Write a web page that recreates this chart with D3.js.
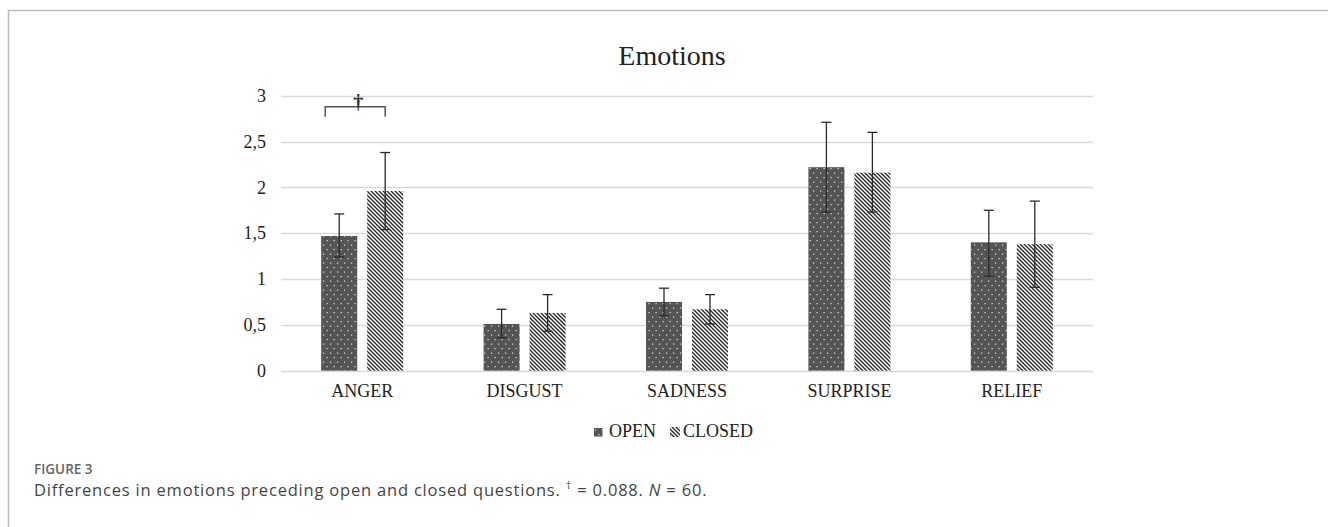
<!DOCTYPE html>
<html>
<head>
<meta charset="utf-8">
<script src="https://cdn.jsdelivr.net/npm/d3@7"></script>
<style>
    body { margin: 0; background: #fff; }
    svg { display: block; }
</style>
</head>
<body>
<svg id="chart" width="1328" height="527"></svg>
<script>
(function () {
    // data
    var categories = [ "ANGER", "DISGUST", "SADNESS", "SURPRISE", "RELIEF" ];
    var series = [ "OPEN", "CLOSED" ];
    var openMeans = [ 1.47, 0.51, 0.75, 2.22, 1.40 ];
    var openLow = [ 1.24, 0.36, 0.60, 1.73, 1.03 ];
    var openHigh = [ 1.71, 0.67, 0.90, 2.71, 1.75 ];
    var closedMeans = [ 1.96, 0.63, 0.67, 2.16, 1.38 ];
    var closedLow = [ 1.54, 0.43, 0.51, 1.73, 0.91 ];
    var closedHigh = [ 2.38, 0.83, 0.83, 2.60, 1.85 ];
    var yTicks = [ 0, 0.5, 1, 1.5, 2, 2.5, 3 ];

    var serif = "'Liberation Serif', 'Times New Roman', serif";
    var sans = "'Open Sans', 'Noto Sans', sans-serif";

    var svg = d3.select( "#chart" );

    // figure frame (top and left edge only, like the cropped panel)
    svg.append( "path" )
        .attr( "d", "M8.5,527 L8.5,10.5 L1328,10.5" )
        .attr( "fill", "none" )
        .attr( "stroke", "#bdbdbd" )
        .attr( "stroke-width", 1.5 );

    // fill patterns
    var defs = svg.append( "defs" );
    var dots = defs.append( "pattern" )
        .attr( "id", "dots" )
        .attr( "patternUnits", "userSpaceOnUse" )
        .attr( "width", 7 )
        .attr( "height", 9 );
    dots.append( "rect" ).attr( "width", 7 ).attr( "height", 9 ).attr( "fill", "#555" );
    dots.append( "rect" ).attr( "x", 1 ).attr( "y", 1.5 ).attr( "width", 1.2 ).attr( "height", 1.2 ).attr( "fill", "#ddd" );
    dots.append( "rect" ).attr( "x", 4.5 ).attr( "y", 6 ).attr( "width", 1.2 ).attr( "height", 1.2 ).attr( "fill", "#ddd" );

    var hatch = defs.append( "pattern" )
        .attr( "id", "hatch" )
        .attr( "patternUnits", "userSpaceOnUse" )
        .attr( "width", 4 )
        .attr( "height", 4 );
    hatch.append( "rect" ).attr( "width", 4 ).attr( "height", 4 ).attr( "fill", "#fff" );
    hatch.append( "path" )
        .attr( "d", "M-1,-1 L5,5 M3,-1 L5,1 M-1,3 L1,5" )
        .attr( "stroke", "#222" )
        .attr( "stroke-width", 1.3 );

    var fills = { OPEN: "url(#dots)", CLOSED: "url(#hatch)" };

    // scales
    var x = d3.scaleBand().domain( categories ).range( [ 281, 1093 ] );
    var xs = d3.scaleBand().domain( series ).range( [ -41, 41 ] ).paddingInner( 0.217 );
    var y = d3.scaleLinear().domain( [ 0, 3 ] ).range( [ 370.7, 95.7 ] );

    // gridlines
    svg.append( "g" )
        .selectAll( "line" )
        .data( yTicks )
        .join( "line" )
        .attr( "x1", 281 )
        .attr( "x2", 1093 )
        .attr( "y1", function ( d ) { return Math.round( y( d ) ) + 0.5 } )
        .attr( "y2", function ( d ) { return Math.round( y( d ) ) + 0.5 } )
        .attr( "stroke", "#d9d9d9" )
        .attr( "stroke-width", 1.3 );

    // y axis labels
    var yAxis = svg.append( "g" )
        .attr( "transform", "translate(281,0)" )
        .call( d3.axisLeft( y )
            .tickValues( yTicks )
            .tickSize( 0 )
            .tickPadding( 15 )
            .tickFormat( function ( d ) { return String( d ).replace( ".", "," ) } ) );
    yAxis.select( ".domain" ).remove();
    yAxis.selectAll( "text" )
        .attr( "font-family", serif )
        .attr( "font-size", 18 )
        .attr( "fill", "#222" );

    // x axis labels
    var xAxis = svg.append( "g" )
        .attr( "transform", "translate(0," + y( 0 ) + ")" )
        .call( d3.axisBottom( x ).tickSize( 0 ).tickPadding( 14 ) );
    xAxis.select( ".domain" ).remove();
    xAxis.selectAll( "text" )
        .attr( "font-family", serif )
        .attr( "font-size", 18 )
        .attr( "fill", "#222" );

    // rows for the bars
    var rows = [];
    categories.forEach( function ( c, i ) {
        rows.push({ cat: c, key: "OPEN", v: openMeans[ i ], lo: openLow[ i ], hi: openHigh[ i ] });
        rows.push({ cat: c, key: "CLOSED", v: closedMeans[ i ], lo: closedLow[ i ], hi: closedHigh[ i ] });
    });
    function barX( d ) {
        return x( d.cat ) + x.bandwidth() / 2 + xs( d.key );
    }

    svg.append( "g" )
        .selectAll( "rect" )
        .data( rows )
        .join( "rect" )
        .attr( "x", barX )
        .attr( "y", function ( d ) { return y( d.v ) } )
        .attr( "width", xs.bandwidth() )
        .attr( "height", function ( d ) { return y( 0 ) - y( d.v ) } )
        .attr( "fill", function ( d ) { return fills[ d.key ] } );

    // error bars
    var err = svg.append( "g" )
        .attr( "stroke", "#2a2a2a" )
        .attr( "stroke-width", 1.3 )
        .selectAll( "g" )
        .data( rows )
        .join( "g" )
        .attr( "transform", function ( d ) {
            return "translate(" + ( barX( d ) + xs.bandwidth() / 2 ) + ",0)";
        });
    err.append( "line" )
        .attr( "y1", function ( d ) { return y( d.lo ) } )
        .attr( "y2", function ( d ) { return y( d.hi ) } );
    err.append( "line" )
        .attr( "x1", -5 ).attr( "x2", 5 )
        .attr( "y1", function ( d ) { return y( d.hi ) } )
        .attr( "y2", function ( d ) { return y( d.hi ) } );
    err.append( "line" )
        .attr( "x1", -5 ).attr( "x2", 5 )
        .attr( "y1", function ( d ) { return y( d.lo ) } )
        .attr( "y2", function ( d ) { return y( d.lo ) } );

    // significance bracket over ANGER
    var bx0 = barX( rows[ 0 ] ) + 4;
    var bx1 = barX( rows[ 1 ] ) + xs.bandwidth() / 2;
    var by = y( 2.88 );
    svg.append( "path" )
        .attr( "d", "M" + bx0 + "," + ( by + 10 ) + " L" + bx0 + "," + by +
            " L" + bx1 + "," + by + " L" + bx1 + "," + ( by + 10 ) )
        .attr( "fill", "none" )
        .attr( "stroke", "#555" )
        .attr( "stroke-width", 1.5 );
    svg.append( "text" )
        .attr( "x", bx0 + ( bx1 - bx0 ) * 0.55 )
        .attr( "y", by + 2 )
        .attr( "text-anchor", "middle" )
        .attr( "font-family", serif )
        .attr( "font-size", 21 )
        .attr( "font-weight", "bold" )
        .attr( "fill", "#333" )
        .text( "\u2020" );

    // title
    svg.append( "text" )
        .attr( "x", 672 )
        .attr( "y", 65 )
        .attr( "text-anchor", "middle" )
        .attr( "font-family", serif )
        .attr( "font-size", 28 )
        .attr( "fill", "#222" )
        .text( "Emotions" );

    // legend
    var legend = svg.append( "g" ).attr( "transform", "translate(594,437)" );
    legend.append( "rect" )
        .attr( "x", 0 ).attr( "y", -9 ).attr( "width", 8.5 ).attr( "height", 8.5 )
        .attr( "fill", fills.OPEN );
    legend.append( "text" )
        .attr( "x", 15 )
        .attr( "font-family", serif )
        .attr( "font-size", 18 )
        .attr( "fill", "#222" )
        .text( "OPEN" );
    legend.append( "rect" )
        .attr( "x", 76 ).attr( "y", -10 ).attr( "width", 10 ).attr( "height", 10 )
        .attr( "fill", fills.CLOSED );
    legend.append( "text" )
        .attr( "x", 89 )
        .attr( "font-family", serif )
        .attr( "font-size", 18 )
        .attr( "fill", "#222" )
        .text( "CLOSED" );

    // caption
    svg.append( "text" )
        .attr( "x", 34 )
        .attr( "y", 474 )
        .attr( "font-family", sans )
        .attr( "font-size", 13.5 )
        .attr( "font-weight", 600 )
        .attr( "fill", "#666" )
        .text( "FIGURE 3" );
    var cap = svg.append( "text" )
        .attr( "x", 34 )
        .attr( "y", 496 )
        .attr( "font-family", sans )
        .attr( "font-size", 16.5 )
        .attr( "letter-spacing", 0.8 )
        .attr( "fill", "#444" );
    cap.append( "tspan" ).text( "Differences in emotions preceding open and closed questions. " );
    cap.append( "tspan" ).attr( "font-size", 11 ).attr( "dy", -7 ).text( "\u2020" );
    cap.append( "tspan" ).attr( "dy", 7 ).text( " = 0.088. " );
    cap.append( "tspan" ).attr( "font-style", "italic" ).text( "N" );
    cap.append( "tspan" ).text( " = 60." );
})();
</script>
</body>
</html>
